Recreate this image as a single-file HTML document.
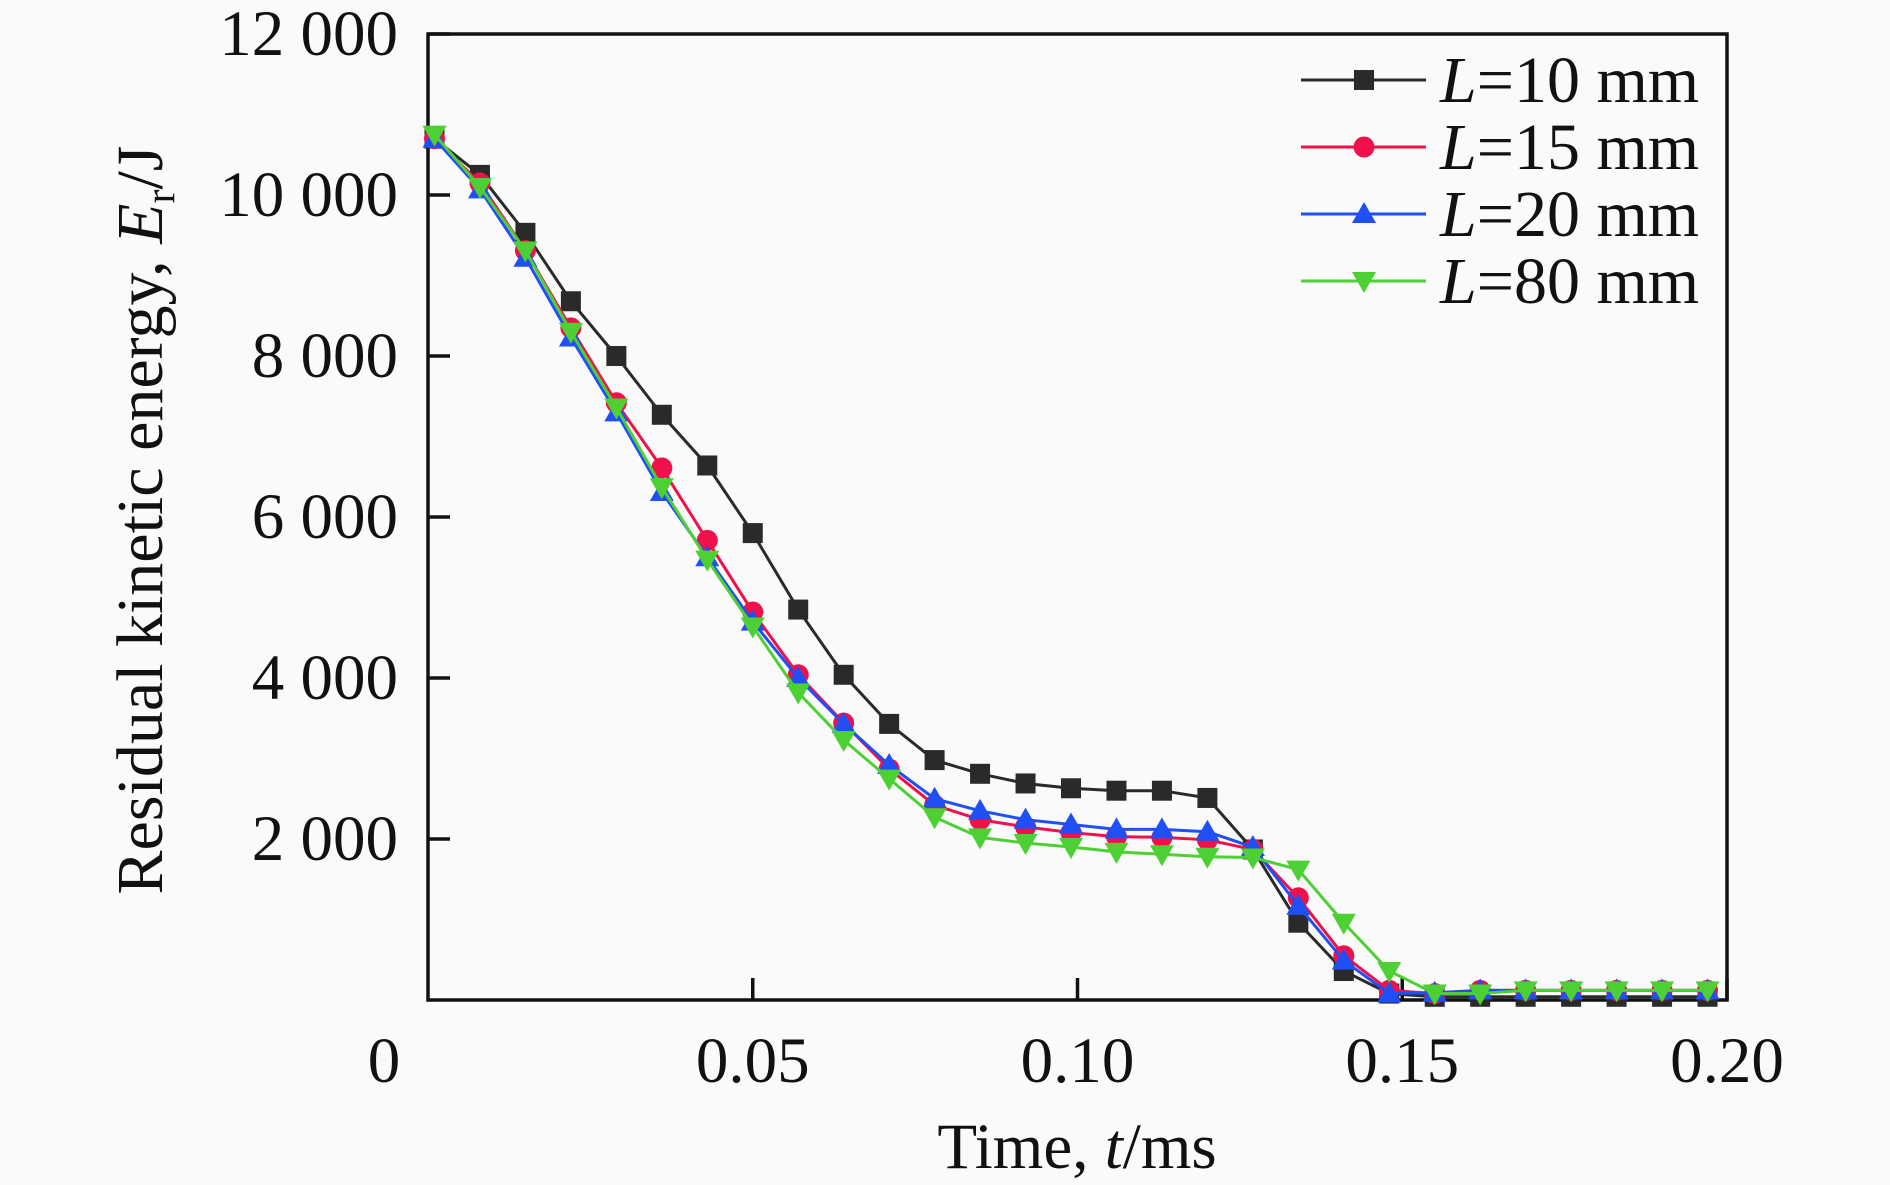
<!DOCTYPE html>
<html><head><meta charset="utf-8"><style>
html,body{margin:0;padding:0;background:#fafafa;}
svg{display:block;font-family:"Liberation Serif",serif;}
</style></head><body>
<svg id="chart" width="1890" height="1185" viewBox="0 0 1890 1185">
<rect x="0" y="0" width="1890" height="1185" fill="#fafafa"/>
<g id="plot"></g>
</svg>
<script>
const times = [0.001,0.008,0.015,0.022,0.029,0.036,0.043,0.050,0.057,0.064,0.071,0.078,0.085,0.092,0.099,0.106,0.113,0.120,0.127,0.134,0.141,0.148,0.155,0.162,0.169,0.176,0.183,0.190,0.197];
const seriesL10 = [10700,10250,9530,8680,8000,7270,6640,5800,4850,4040,3430,2980,2810,2690,2630,2600,2600,2510,1870,960,360,80,40,40,40,40,40,40,40];
const seriesL15 = [10700,10150,9310,8350,7420,6610,5710,4820,4040,3440,2870,2420,2240,2150,2080,2030,2020,1990,1870,1270,550,120,80,120,120,120,120,120,120];
const seriesL20 = [10700,10070,9220,8230,7300,6310,5500,4700,4000,3430,2920,2500,2350,2240,2180,2120,2120,2090,1900,1170,490,80,90,120,120,120,120,120,120];
const seriesL80 = [10750,10100,9310,8300,7360,6370,5470,4640,3820,3230,2750,2270,2020,1950,1900,1840,1810,1780,1770,1620,960,360,80,80,120,120,120,120,120];
const legendLabels = ["10 mm","15 mm","20 mm","80 mm"];
const yTicks = [2000,4000,6000,8000,10000,12000];
const yTickLabels = ["2 000","4 000","6 000","8 000","10 000","12 000"];
const xTicks = [0.05,0.10,0.15,0.20];
const xTickLabels = ["0.05","0.10","0.15","0.20"];

const L=428,R=1727,T=34,B=1000;
const xs = v => L + v/0.2*(R-L);
const ys = v => B - v/12000*(B-T);
const NS="http://www.w3.org/2000/svg";
const g=document.getElementById('plot');
function mk(tag,attrs,parent){const e=document.createElementNS(NS,tag);for(const k in attrs)e.setAttribute(k,attrs[k]);(parent||g).appendChild(e);return e;}

const frame=mk('rect',{x:L,y:T,width:R-L,height:B-T,fill:'none',stroke:'#111','stroke-width':3.5});



yTicks.forEach((v,i)=>{
  const t=mk('line',{x1:L,x2:L+22,y1:ys(v),y2:ys(v),stroke:'#111','stroke-width':3.5});
  
  
  const tx=mk('text',{x:398,y:ys(v)+21,'text-anchor':'end','font-size':65,fill:'#111'});
  tx.textContent=yTickLabels[i];
  
  
});
const zero=mk('text',{x:384,y:1082,'text-anchor':'middle','font-size':65,fill:'#111'});
zero.textContent='0';


xTicks.forEach((v,i)=>{
  const t=mk('line',{x1:xs(v),x2:xs(v),y1:B,y2:B-22,stroke:'#111','stroke-width':3.5});
  
  
  const tx=mk('text',{x:xs(v),y:1082,'text-anchor':'middle','font-size':65,fill:'#111'});
  tx.textContent=xTickLabels[i];
  
  
});

const xt=mk('text',{x:1077,y:1168,'text-anchor':'middle','font-size':65,fill:'#111'});
xt.innerHTML='Time, <tspan font-style="italic">t</tspan>/ms';


const yt=mk('text',{x:0,y:0,'text-anchor':'middle','font-size':66,fill:'#111',transform:'translate(162,520) rotate(-90)'});
yt.innerHTML='Residual kinetic energy, <tspan font-style="italic">E</tspan><tspan font-size="42" dy="12">r</tspan><tspan dy="-12">/J</tspan>';



function marker(type,x,y,color,parent){
  let e;
  if(type==='square') e=mk('rect',{x:x-10,y:y-10,width:20,height:20,fill:color},parent);
  else if(type==='circle') e=mk('circle',{cx:x,cy:y,r:10.5,fill:color},parent);
  else if(type==='up') e=mk('polygon',{points:`${x},${y-12} ${x-12},${y+9} ${x+12},${y+9}`,fill:color},parent);
  else e=mk('polygon',{points:`${x},${y+12} ${x-12},${y-9} ${x+12},${y-9}`,fill:color},parent);
  return e;
}
const series=[
  {d:seriesL10,c:'#2a2a2a',m:'square',n:'l10'},
  {d:seriesL15,c:'#f0104a',m:'circle',n:'l15'},
  {d:seriesL20,c:'#1f4ff5',m:'up',n:'l20'},
  {d:seriesL80,c:'#4cd033',m:'down',n:'l80'}
];
series.forEach((s,si)=>{
  const sg=mk('g',{});
  
  
  const pts=s.d.map((v,i)=>xs(times[i])+','+ys(v)).join(' ');
  const pl=mk('polyline',{points:pts,fill:'none',stroke:s.c,'stroke-width':3},sg);
  
  
  s.d.forEach((v,i)=>{
    const m=marker(s.m,xs(times[i]),ys(v),s.c,sg);
    
    
  });
  const ly=80+si*67;
  const lg=mk('g',{});
  
  
  mk('line',{x1:1301,x2:1426,y1:ly,y2:ly,stroke:s.c,'stroke-width':3},lg);
  marker(s.m,1364,ly,s.c,lg);
  const t=mk('text',{x:1440,y:ly+22,'font-size':66,fill:'#111'},lg);
  t.innerHTML='<tspan font-style="italic">L</tspan>='+legendLabels[si];
});
</script>
</body></html>
